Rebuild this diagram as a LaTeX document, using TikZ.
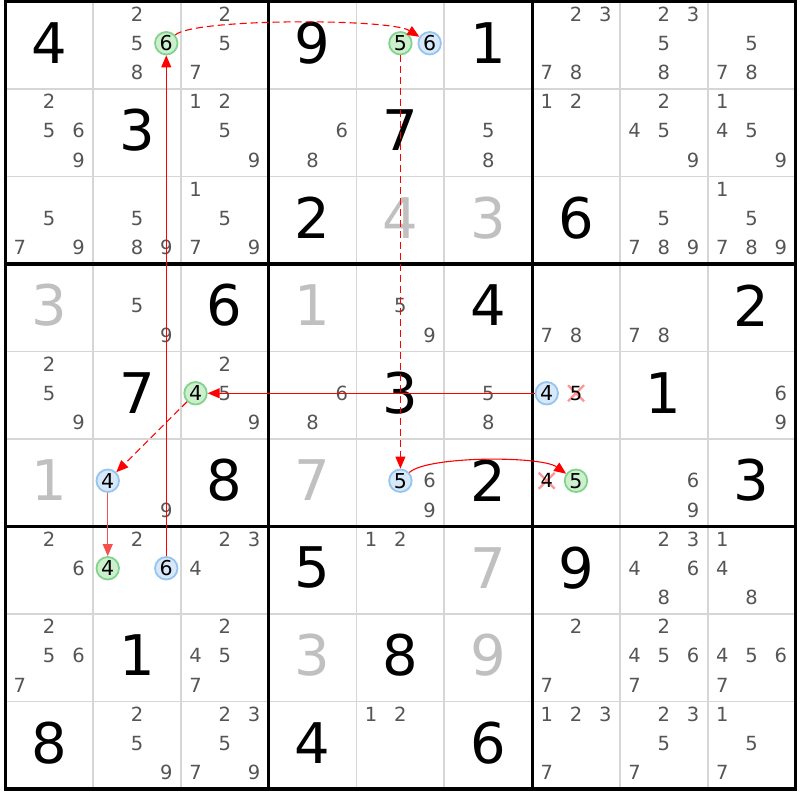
\documentclass[tikz,border=0pt]{standalone}
\usepackage{fontspec}
\setmainfont{DejaVu Sans}
\usetikzlibrary{arrows.meta}
\definecolor{candgray}{RGB}{85,85,85}
\definecolor{solvedgray}{RGB}{192,192,192}
\definecolor{thingrid}{RGB}{214,214,214}
\definecolor{hlgreenfill}{RGB}{204,240,206}
\definecolor{hlgreenline}{RGB}{130,212,140}
\definecolor{hlbluefill}{RGB}{214,232,250}
\definecolor{hlblueline}{RGB}{150,196,240}
\definecolor{linkred}{RGB}{255,0,0}
\definecolor{softred}{RGB}{245,80,80}
\definecolor{xpink}{RGB}{255,150,150}
\newcommand\candpos[3]{%
  \pgfmathsetmacro\cx{5.3+(#2-1)*87.8+(2*mod(#3-1,3)+1)*87.8/6}%
  \pgfmathsetmacro\cy{800-(1.5+(#1-1)*87.5+(2*floor((#3-1)/3)+1)*87.5/6-2)}%
}
\newcommand\cellpos[2]{%
  \pgfmathsetmacro\cx{5.3+(#2-0.5)*87.8}%
  \pgfmathsetmacro\cy{800-(1.5+(#1-0.5)*87.5-2.5)}%
}
\newcommand\cands[3]{\foreach \d in {#3}{\candpos{#1}{#2}{\d}\node[cand] (c#1#2\d) at (\cx,\cy) {\d};}}
\newcommand\hcand[4]{\candpos{#1}{#2}{#3}\node[#4] (c#1#2#3) at (\cx,\cy) {#3};}
\newcommand\xcand[3]{\candpos{#1}{#2}{#3}\draw[xmark] (\cx-8,\cy-8) -- (\cx+8,\cy+8) (\cx-8,\cy+8) -- (\cx+8,\cy-8);\node[candx] (c#1#2#3) at (\cx,\cy) {#3};}
\newcommand\bigdig[4]{\cellpos{#1}{#2}\node[bigd,text=#4] (g#1#2) at (\cx,\cy) {#3};}
\tikzset{
  candfont/.style={font=\fontsize{19.5}{19.5}\selectfont},
  cand/.style={candfont, text=candgray, inner sep=0pt},
  candx/.style={candfont, text=black, inner sep=0pt},
  hlbase/.style={font=\fontsize{20.5}{20.5}\selectfont, circle, text=black, line width=1.8pt, minimum size=22.5pt, inner sep=0pt},
  hlg/.style={hlbase, draw=hlgreenline, fill=hlgreenfill},
  hlb/.style={hlbase, draw=hlblueline, fill=hlbluefill},
  bigd/.style={font=\fontsize{56}{56}\selectfont, inner sep=0pt},
  xmark/.style={draw=xpink, line width=2.2pt},
  thinline/.style={draw=thingrid, line width=1.8pt},
  thickline/.style={draw=black, line width=3.2pt},
  link/.style={draw=linkred, line width=1.1pt, -{Triangle[length=12pt,width=10pt]}},
  weaklink/.style={link, dash pattern=on 7pt off 4pt},
}
\begin{document}
\begin{tikzpicture}[x=1pt,y=1pt]
\fill[white] (0,0) rectangle (800,800);
\useasboundingbox (0,0) rectangle (800,800);
% grid
\foreach \x in {93.1,180.9,356.5,444.3,619.9,707.7} \draw[thinline] (\x,798.5) -- (\x,11);
\foreach \y in {89,176.5,351.5,439,614,701.5} \draw[thinline] (5.3,800-\y) -- (795.5,800-\y);
\foreach \x in {268.7,532.1} \draw[thickline] (\x,798.5) -- (\x,11);
\foreach \y in {264,526.5} \draw[thickline] (5.3,800-\y) -- (795.5,800-\y);
\draw[thickline] (5.3,798.5) rectangle (795.5,11);
% row 1
\bigdig{1}{1}{4}{black}
\cands{1}{2}{2,5,8}\hcand{1}{2}{6}{hlg}
\cands{1}{3}{2,5,7}
\bigdig{1}{4}{9}{black}
\hcand{1}{5}{5}{hlg}\hcand{1}{5}{6}{hlb}
\bigdig{1}{6}{1}{black}
\cands{1}{7}{2,3,7,8}
\cands{1}{8}{2,3,5,8}
\cands{1}{9}{5,7,8}
% row 2
\cands{2}{1}{2,5,6,9}
\bigdig{2}{2}{3}{black}
\cands{2}{3}{1,2,5,9}
\cands{2}{4}{6,8}
\bigdig{2}{5}{7}{black}
\cands{2}{6}{5,8}
\cands{2}{7}{1,2}
\cands{2}{8}{2,4,5,9}
\cands{2}{9}{1,4,5,9}
% row 3
\cands{3}{1}{5,7,9}
\cands{3}{2}{5,8,9}
\cands{3}{3}{1,5,7,9}
\bigdig{3}{4}{2}{black}
\bigdig{3}{5}{4}{solvedgray}
\bigdig{3}{6}{3}{solvedgray}
\bigdig{3}{7}{6}{black}
\cands{3}{8}{5,7,8,9}
\cands{3}{9}{1,5,7,8,9}
% row 4
\bigdig{4}{1}{3}{solvedgray}
\cands{4}{2}{5,9}
\bigdig{4}{3}{6}{black}
\bigdig{4}{4}{1}{solvedgray}
\cands{4}{5}{5,9}
\bigdig{4}{6}{4}{black}
\cands{4}{7}{7,8}
\cands{4}{8}{7,8}
\bigdig{4}{9}{2}{black}
% row 5
\cands{5}{1}{2,5,9}
\bigdig{5}{2}{7}{black}
\cands{5}{3}{2,5,9}\hcand{5}{3}{4}{hlg}
\cands{5}{4}{6,8}
\bigdig{5}{5}{3}{black}
\cands{5}{6}{5,8}
\hcand{5}{7}{4}{hlb}\xcand{5}{7}{5}
\bigdig{5}{8}{1}{black}
\cands{5}{9}{6,9}
% row 6
\bigdig{6}{1}{1}{solvedgray}
\hcand{6}{2}{4}{hlb}\cands{6}{2}{9}
\bigdig{6}{3}{8}{black}
\bigdig{6}{4}{7}{solvedgray}
\hcand{6}{5}{5}{hlb}\cands{6}{5}{6,9}
\bigdig{6}{6}{2}{black}
\xcand{6}{7}{4}\hcand{6}{7}{5}{hlg}
\cands{6}{8}{6,9}
\bigdig{6}{9}{3}{black}
% row 7
\cands{7}{1}{2,6}
\cands{7}{2}{2}\hcand{7}{2}{4}{hlg}\hcand{7}{2}{6}{hlb}
\cands{7}{3}{2,3,4}
\bigdig{7}{4}{5}{black}
\cands{7}{5}{1,2}
\bigdig{7}{6}{7}{solvedgray}
\bigdig{7}{7}{9}{black}
\cands{7}{8}{2,3,4,6,8}
\cands{7}{9}{1,4,8}
% row 8
\cands{8}{1}{2,5,6,7}
\bigdig{8}{2}{1}{black}
\cands{8}{3}{2,4,5,7}
\bigdig{8}{4}{3}{solvedgray}
\bigdig{8}{5}{8}{black}
\bigdig{8}{6}{9}{solvedgray}
\cands{8}{7}{2,7}
\cands{8}{8}{2,4,5,6,7}
\cands{8}{9}{4,5,6,7}
% row 9
\bigdig{9}{1}{8}{black}
\cands{9}{2}{2,5,9}
\cands{9}{3}{2,3,5,7,9}
\bigdig{9}{4}{4}{black}
\cands{9}{5}{1,2}
\bigdig{9}{6}{6}{black}
\cands{9}{7}{1,2,3,7}
\cands{9}{8}{2,3,5,7}
\cands{9}{9}{1,5,7}
% chain
\draw[weaklink] (c126) .. controls +(27,25) and +(-40,25) .. (c156);
\draw[weaklink] (c155) -- (c655);
\draw[link] (c655) .. controls +(27,25) and +(-35,25) .. (c675);
\draw[link] (c574) -- (c534);
\draw[weaklink] (c534) -- (c624);
\draw[link, draw=softred] (c624) -- (c724);
\draw[link] (c726) -- (c126);
\end{tikzpicture}
\end{document}
